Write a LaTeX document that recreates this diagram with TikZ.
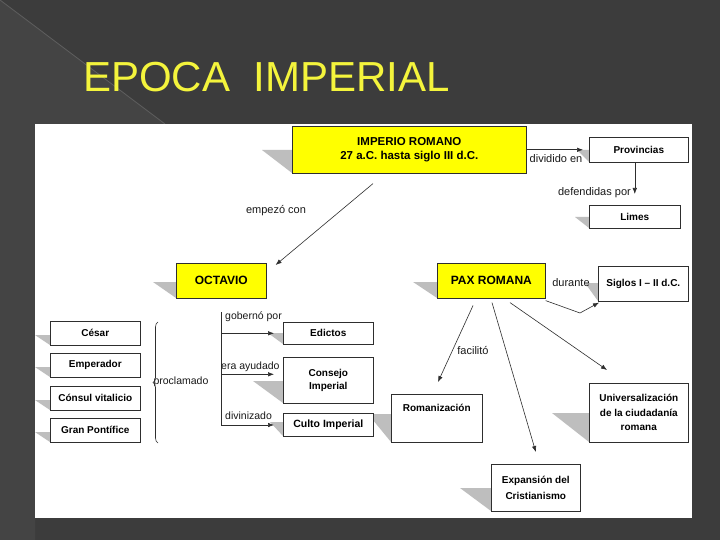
\documentclass[tikz,border=0pt]{standalone}
\usepackage{fontspec}
\setmainfont{Liberation Sans}
\usetikzlibrary{calc,decorations.pathreplacing,arrows.meta}
\definecolor{bg}{HTML}{3C3C3C}
\definecolor{bgl}{HTML}{444444}
\definecolor{bgline}{HTML}{5E5E5E}
\definecolor{ttl}{HTML}{F4F43C}
\definecolor{yel}{HTML}{FFFF00}
\definecolor{shd}{HTML}{BEBEBE}
\definecolor{edgec}{HTML}{2E2E2E}
\begin{document}
\begin{tikzpicture}[x=1pt,y=-1pt,
  box/.style={draw=edgec, line width=0.6pt, fill=white, anchor=north west, inner sep=0pt, align=center, text=black,
    font=\fontsize{10}{13}\selectfont\bfseries},
  ybox/.style={box, fill=yel, font=\fontsize{12}{14}\selectfont\bfseries},
  arr/.style={draw=edgec, line width=0.6pt, -{Latex[length=6pt,width=4.5pt]}},
  plain/.style={draw=edgec, line width=0.6pt},
  lbl/.style={font=\fontsize{11}{13}\selectfont, inner sep=0pt, text=black!90},
  shadowc/.style={fill=shd}]
% background
\fill[bg] (0,0) rectangle (720,540);
\useasboundingbox (0,0) rectangle (720,540);
\fill[bgl] (0,0) -- (165,124) -- (35,124) -- (35,540) -- (0,540) -- cycle;
\draw[bgline, line width=0.8pt] (0,0) -- (165,124);
\fill[white] (35,124) rectangle (692,518);
% title
\node[anchor=base west, font=\fontsize{42}{48}\selectfont, text=ttl, inner sep=0pt] (title) at (83,92) {EPOCA~~IMPERIAL};
% shadows
\fill[shadowc] (262,150) -- (292,150) -- (292,173) -- cycle;
\fill[shadowc] (577,150) -- (589,150) -- (589,162) -- cycle;
\fill[shadowc] (575,217) -- (589,217) -- (589,228) -- cycle;
\fill[shadowc] (153,282) -- (176,282) -- (176,298) -- cycle;
\fill[shadowc] (413,282) -- (437,282) -- (437,298) -- cycle;
\fill[shadowc] (585,283) -- (598,283) -- (598,301) -- cycle;
\fill[shadowc] (35,335) -- (50,335) -- (50,345) -- cycle;
\fill[shadowc] (35,367) -- (50,367) -- (50,377) -- cycle;
\fill[shadowc] (35,400) -- (50,400) -- (50,410) -- cycle;
\fill[shadowc] (35,432) -- (50,432) -- (50,442) -- cycle;
\fill[shadowc] (268,333) -- (283,333) -- (283,344) -- cycle;
\fill[shadowc] (253,381) -- (283,381) -- (283,403) -- cycle;
\fill[shadowc] (270,422) -- (283,422) -- (283,436) -- cycle;
\fill[shadowc] (368,414) -- (391,414) -- (391,442) -- cycle;
\fill[shadowc] (552,413) -- (589,413) -- (589,442) -- cycle;
\fill[shadowc] (460,488) -- (491,488) -- (491,511) -- cycle;
% boxes
\node[ybox, minimum width=234pt, minimum height=47pt, font=\fontsize{11.5}{14}\selectfont\bfseries] (imp) at (292,126) {IMPERIO ROMANO\\27 a.C. hasta siglo III d.C.};
\node[box, minimum width=99pt, minimum height=25pt] (prov) at (589,137) {Provincias};
\node[box, minimum width=91pt, minimum height=23pt] (limes) at (589,205) {Limes};
\node[ybox, minimum width=90pt, minimum height=35pt] (oct) at (176,263) {OCTAVIO};
\node[ybox, minimum width=108pt, minimum height=35pt] (pax) at (437,263) {PAX ROMANA};
\node[box, minimum width=90pt, minimum height=35pt] (siglos) at (598,266) {Siglos I – II d.C.};
\node[box, minimum width=90pt, minimum height=24pt] (cesar) at (50,321) {César};
\node[box, minimum width=90pt, minimum height=24pt] (emp) at (50,353) {Emperador};
\node[box, minimum width=90pt, minimum height=24pt] (consul) at (50,386) {Cónsul vitalicio};
\node[box, minimum width=90pt, minimum height=24pt] (gran) at (50,418) {Gran Pontífice};
\node[box, minimum width=90pt, minimum height=22pt] (edictos) at (283,322) {Edictos};
\node[box, minimum width=90pt, minimum height=46pt, font=\fontsize{10}{12.5}\selectfont\bfseries] (consejo) at (283,357) {Consejo\\Imperial};
\node[box, minimum width=90pt, minimum height=23pt, font=\fontsize{10.5}{13}\selectfont\bfseries] (culto) at (283,413) {Culto Imperial};
\node[box, minimum width=91pt, minimum height=48pt] (roman) at (391,394) {\parbox[c][44pt][t]{85pt}{\centering\vspace*{8pt}Romanización}};
\node[box, minimum width=99pt, minimum height=59pt, font=\fontsize{10}{14.5}\selectfont\bfseries] (univ) at (589,383) {Universalización\\de la ciudadanía\\romana};
\node[box, minimum width=89pt, minimum height=47pt, font=\fontsize{10}{16}\selectfont\bfseries] (expan) at (491,464) {Expansión del\\Cristianismo};
% connectors
\draw[arr] (imp.east) -- ([xshift=-6pt]prov.west);
\node[lbl] (l1) at (556,159) {dividido en};
\draw[arr] (prov.south -| limes.north) -- ([yshift=11pt]limes.north);
\node[lbl, anchor=east] (l2) at (631,193) {defendidas por};
\draw[arr] ([shift={(81,10)}]imp.south west) -- ([shift={(9,2)}]oct.north east);
\node[lbl] (l3) at (276,211) {empezó con};
\coordinate (bend) at (580,313);
\draw[arr] ([shift={(0,2)}]pax.south east) -- (bend) -- ([shift={(1,1)}]siglos.south west);
\node[lbl] (l4) at (571,283) {durante};
\draw[arr] ([shift={(36,7)}]pax.south west) -- ([shift={(47,-12)}]roman.north west);
\node[lbl] (l5) at (473,351) {facilitó};
\draw[arr] ([shift={(55,4)}]pax.south west) -- ([shift={(0,-12)}]expan.north);
\draw[arr] ([shift={(73,4)}]pax.south west) -- ([shift={(18,-13)}]univ.north west);
% octavio branches
\coordinate (vt) at (221,312);
\coordinate (vb) at (221,425);
\draw[plain] (vt) -- (vb);
\draw[arr] (vt |- edictos.west) -- ([xshift=-9pt]edictos.west);
\draw[arr] (vt |- consejo.west) ++(0,-6) -- ([shift={(-9,-6)}]consejo.west);
\draw[arr] (vb) -- ([xshift=-9pt]vb -| culto.west);
\node[lbl, anchor=west, font=\fontsize{10.5}{12}\selectfont] (l6) at (225,317) {gobernó por};
\node[lbl, anchor=west, font=\fontsize{10.5}{12}\selectfont] (l7) at (221,367) {era ayudado};
\node[lbl, anchor=west, font=\fontsize{10.5}{12}\selectfont] (l8) at (225,416) {divinizado};
% brace
\draw[plain, decorate, decoration={brace, amplitude=5pt}] (158,443) -- (158,322);
\node[lbl, font=\fontsize{10.5}{12}\selectfont] (l9) at (181,382) {proclamado};
\end{tikzpicture}
\end{document}
